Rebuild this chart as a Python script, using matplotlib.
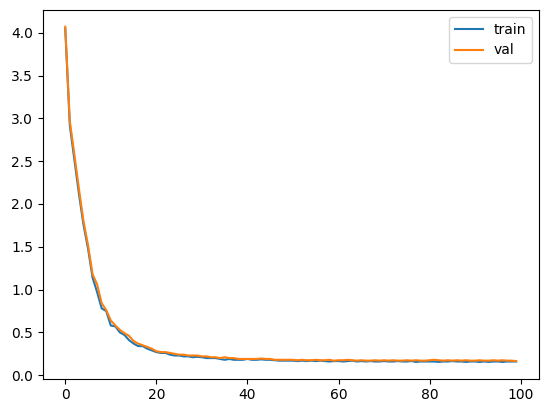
import matplotlib
matplotlib.use("Agg")
import matplotlib.pyplot as plt

epochs = list(range(100))

train = [4.05, 2.92, 2.52, 2.12, 1.76, 1.48, 1.14, 0.97, 0.78, 0.75,
         0.58, 0.57, 0.50, 0.47, 0.41, 0.37, 0.34, 0.34, 0.31, 0.29,
         0.27, 0.26, 0.26, 0.24, 0.23, 0.23, 0.22, 0.22, 0.21, 0.215,
         0.21, 0.20, 0.20, 0.20, 0.19, 0.18, 0.19, 0.18, 0.18, 0.18,
         0.19, 0.18, 0.18, 0.185, 0.18, 0.18, 0.175, 0.17, 0.17, 0.17,
         0.17, 0.165, 0.17, 0.165, 0.17, 0.165, 0.17, 0.165, 0.16, 0.165,
         0.165, 0.16, 0.165, 0.17, 0.16, 0.165, 0.16, 0.165, 0.16, 0.16,
         0.165, 0.16, 0.16, 0.165, 0.16, 0.16, 0.165, 0.155, 0.16, 0.16,
         0.16, 0.16, 0.155, 0.16, 0.16, 0.165, 0.16, 0.16, 0.155, 0.16,
         0.16, 0.155, 0.16, 0.155, 0.16, 0.16, 0.155, 0.16, 0.16, 0.16]

val = [4.07, 2.97, 2.58, 2.18, 1.80, 1.52, 1.18, 1.06, 0.84, 0.76,
       0.64, 0.58, 0.53, 0.49, 0.46, 0.40, 0.37, 0.35, 0.33, 0.31,
       0.28, 0.27, 0.27, 0.26, 0.25, 0.24, 0.24, 0.23, 0.23, 0.23,
       0.22, 0.22, 0.21, 0.21, 0.20, 0.21, 0.20, 0.20, 0.19, 0.19,
       0.19, 0.19, 0.19, 0.195, 0.19, 0.19, 0.18, 0.18, 0.18, 0.18,
       0.18, 0.175, 0.18, 0.175, 0.175, 0.18, 0.175, 0.175, 0.18, 0.17,
       0.175, 0.175, 0.18, 0.175, 0.17, 0.175, 0.17, 0.17, 0.175, 0.17,
       0.175, 0.17, 0.175, 0.17, 0.17, 0.175, 0.17, 0.175, 0.17, 0.17,
       0.175, 0.18, 0.175, 0.17, 0.175, 0.17, 0.175, 0.17, 0.175, 0.17,
       0.17, 0.175, 0.17, 0.17, 0.175, 0.17, 0.175, 0.17, 0.17, 0.165]

fig = plt.figure(figsize=(5.47, 4.13), dpi=100)
ax = fig.add_axes([42.7 / 547, 1 - 378.7 / 413, (538.7 - 42.7) / 547, (378.7 - 10) / 413])
ax.plot(epochs, train, label="train")
ax.plot(epochs, val, label="val")
ax.legend()
fig.savefig("out.png", dpi=100)
